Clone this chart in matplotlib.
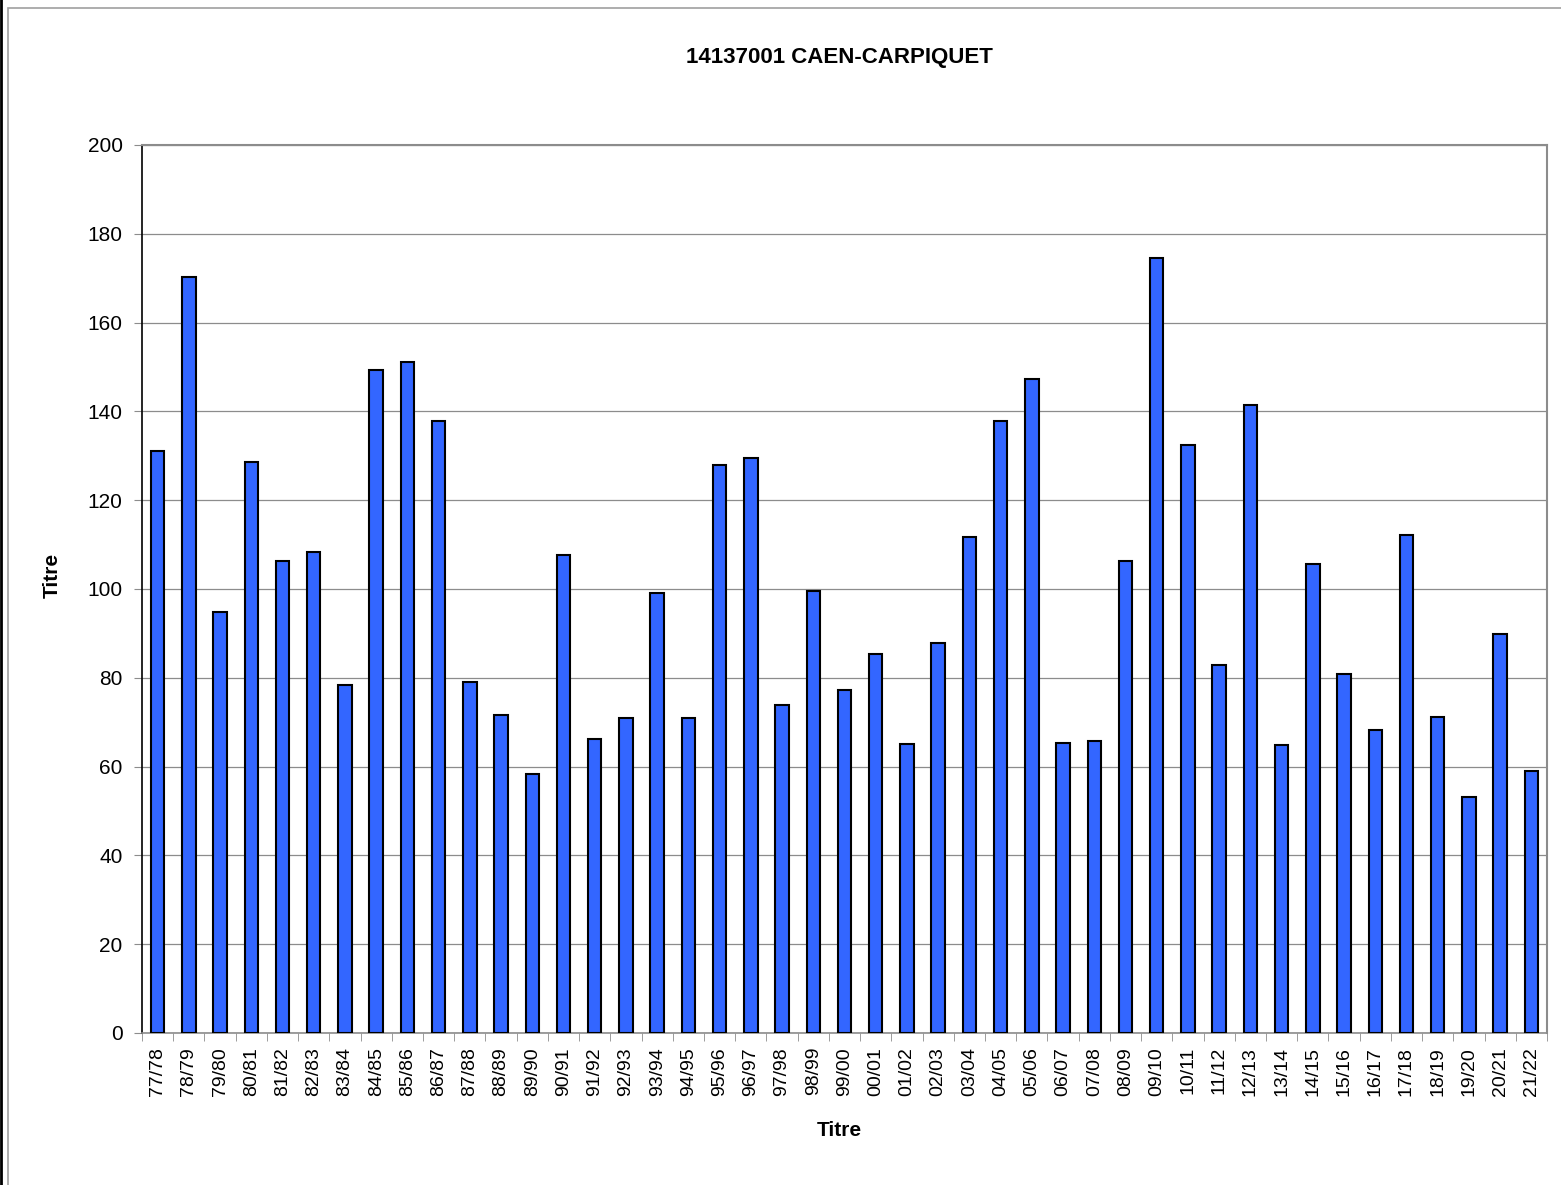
import matplotlib
matplotlib.use("Agg")
import matplotlib.pyplot as plt
from matplotlib.patches import Rectangle
from matplotlib.lines import Line2D
import numpy as np

plt.rcParams["font.family"] = ["Liberation Sans", "DejaVu Sans"]

seasons = ["77/78", "78/79", "79/80", "80/81", "81/82", "82/83", "83/84", "84/85",
           "85/86", "86/87", "87/88", "88/89", "89/90", "90/91", "91/92", "92/93",
           "93/94", "94/95", "95/96", "96/97", "97/98", "98/99", "99/00", "00/01",
           "01/02", "02/03", "03/04", "04/05", "05/06", "06/07", "07/08", "08/09",
           "09/10", "10/11", "11/12", "12/13", "13/14", "14/15", "15/16", "16/17",
           "17/18", "18/19", "19/20", "20/21", "21/22"]
values = [131.1, 170.3, 94.8, 128.6, 106.3, 108.3, 78.4, 149.3,
          151.1, 137.8, 79.1, 71.6, 58.3, 107.7, 66.2, 70.9,
          99.1, 70.9, 127.9, 129.5, 73.9, 99.5, 77.3, 85.4,
          65.1, 87.8, 111.7, 137.8, 147.3, 65.3, 65.8, 106.3,
          174.5, 132.4, 82.9, 141.4, 64.9, 105.6, 80.9, 68.2,
          112.2, 71.2, 53.2, 89.9, 59.0]

W, H = 1561, 1185
fig = plt.figure(figsize=(W / 100, H / 100), dpi=100)

# chart-area border (Excel style) and page edge
fig.patches.append(Rectangle((8 / W, -0.1), 1.2, 1 - 8 / H + 0.1, transform=fig.transFigure,
                             fill=False, edgecolor="#a0a0a0", linewidth=1.2))
fig.lines.append(Line2D([1 / W, 1 / W], [0, 1], transform=fig.transFigure,
                        color="black", linewidth=2))

ax = fig.add_axes([142 / W, (H - 1033) / H, (1547 - 142) / W, (1033 - 145) / H])

x = np.arange(len(seasons))
ax.bar(x, values, width=0.43, color="#3366ff", edgecolor="black", linewidth=1.5, zorder=3)

ax.set_xlim(-0.5, len(seasons) - 0.5)
ax.set_ylim(0, 200)
ax.set_yticks(np.arange(0, 201, 20))
ax.yaxis.grid(True, color="#8c8c8c", linewidth=0.9, zorder=0)
ax.set_xticks(x)
ax.set_xticklabels(seasons, rotation=90, fontsize=14)
ax.set_xticks(np.arange(-0.5, len(seasons)), minor=True)
ax.tick_params(axis="x", which="major", length=0, pad=10)
ax.tick_params(axis="x", which="minor", length=6, color="#8c8c8c")
ax.tick_params(axis="y", length=6, color="#8c8c8c", labelsize=15, pad=8)

for side in ["top", "right"]:
    ax.spines[side].set_color("#8c8c8c")
    ax.spines[side].set_linewidth(1.5)
ax.spines["left"].set_color("black")
ax.spines["left"].set_linewidth(1.2)
ax.spines["bottom"].set_color("#8c8c8c")
ax.spines["bottom"].set_linewidth(1.2)

fig.text(839 / W, 1 - 57 / H, "14137001 CAEN-CARPIQUET", ha="center", va="center",
         fontsize=16, fontweight="bold")
fig.text(839 / W, 1 - 1130 / H, "Titre", ha="center", va="center",
         fontsize=15, fontweight="bold")
fig.text(52 / W, 1 - 575 / H, "Titre", ha="center", va="center", rotation=90,
         fontsize=15, fontweight="bold")

fig.savefig("out.png", dpi=100)
